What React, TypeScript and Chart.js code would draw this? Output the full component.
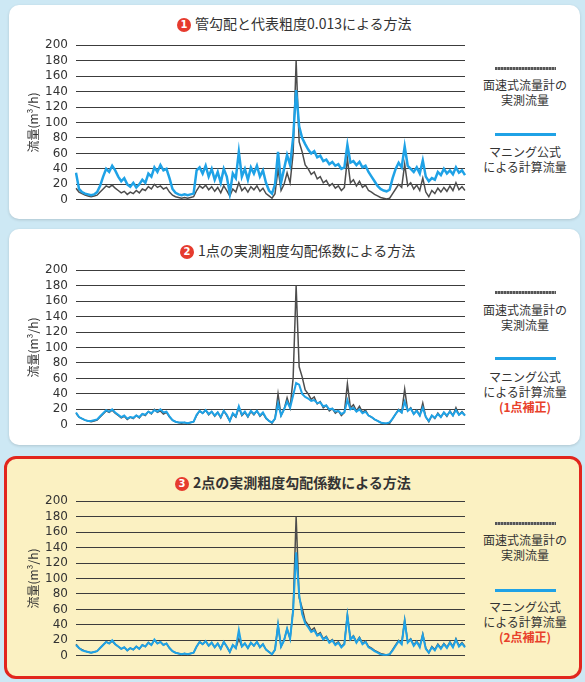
import React, { useEffect, useRef } from 'react';
import { Chart, registerables } from 'chart.js';

Chart.register(...registerables);

// ---- data ----
const yTicks = [0, 20, 40, 60, 80, 100, 120, 140, 160, 180, 200];
const yTitle = '流量(m³/h)';

// 面速式流量計の実測流量 (measured)
const measured = [
  15, 10, 8, 6, 5, 4, 5, 6, 10, 14,
  18, 16, 19, 15, 12, 9, 11, 7, 10, 8,
  12, 9, 14, 12, 17, 14, 20, 16, 18, 14,
  16, 10, 6, 4, 3, 2, 3, 2, 3, 4,
  12, 18, 15, 19, 13, 17, 11, 16, 9, 18,
  12, 5, 14, 10, 22, 12, 16, 10, 17, 13,
  18, 11, 15, 8, 5, 2, 8, 40, 12, 20,
  35, 22, 60, 180, 75, 62, 45, 40, 33, 36,
  27, 30, 22, 25, 18, 21, 15, 18, 12, 16,
  53, 22, 26, 18, 24, 16, 19, 12, 10, 7,
  5, 3, 2, 1, 2, 8, 14, 20, 16, 46,
  18, 22, 14, 19, 12, 28, 10, 4, 12, 8,
  15, 10, 16, 11, 18, 12, 22, 13, 17, 12,
];

// ❶ 管勾配と代表粗度0.013
const calcRough013 = [
  35, 14, 10, 8, 7, 6, 7, 10, 18, 30,
  40, 36, 44, 38, 30, 24, 28, 20, 17, 22,
  16, 20, 26, 22, 34, 30, 42, 36, 45, 38,
  40, 28, 14, 9, 7, 6, 7, 6, 7, 8,
  38, 42, 34, 44, 30, 40, 26, 36, 22, 40,
  30, 8, 34, 28, 62, 30, 40, 26, 42, 34,
  44, 30, 38, 22, 12, 8, 20, 62, 22, 40,
  58, 45, 80, 142, 95, 80, 72, 65, 60, 63,
  55, 57, 50, 52, 46, 49, 44, 46, 40, 42,
  71, 48, 50, 45, 49, 42, 44, 36, 30, 24,
  18, 14, 12, 11, 13, 28, 40, 48, 42, 69,
  44, 40, 36, 42, 34, 51, 30, 24, 28, 26,
  36, 32, 40, 34, 38, 33, 42, 35, 38, 32,
];

// ❷ 1点補正
const calcOnePoint = [
  16, 10, 8, 6, 5, 5, 6, 7, 11, 15,
  19, 17, 20, 16, 13, 10, 12, 8, 10, 9,
  12, 10, 14, 13, 17, 15, 19, 17, 20, 16,
  17, 11, 6, 4, 3, 3, 3, 2, 3, 4,
  13, 18, 15, 19, 14, 17, 12, 16, 10, 18,
  13, 5, 15, 11, 24, 13, 17, 11, 18, 14,
  18, 12, 16, 9, 5, 3, 8, 28, 12, 20,
  30, 22, 38, 54, 52, 40, 36, 34, 31, 32,
  28, 29, 24, 25, 20, 21, 17, 18, 14, 16,
  32, 20, 22, 17, 20, 15, 17, 12, 10, 7,
  5, 3, 2, 2, 3, 8, 14, 19, 16, 30,
  18, 21, 14, 18, 12, 22, 10, 5, 12, 9,
  14, 10, 16, 12, 17, 12, 19, 13, 16, 12,
];

// ❸ 2点補正
const calcTwoPoint = [
  14, 10, 7, 6, 5, 4, 5, 6, 10, 14,
  18, 16, 20, 15, 12, 9, 11, 7, 10, 8,
  12, 9, 14, 12, 17, 14, 21, 16, 18, 14,
  16, 10, 6, 4, 3, 2, 3, 2, 3, 4,
  12, 18, 15, 19, 13, 17, 11, 16, 9, 18,
  12, 5, 14, 10, 33, 12, 16, 10, 17, 13,
  18, 11, 15, 8, 5, 2, 8, 40, 12, 20,
  35, 22, 58, 134, 79, 54, 42, 37, 31, 33,
  26, 28, 21, 24, 17, 20, 14, 17, 11, 15,
  52, 21, 25, 17, 23, 15, 18, 11, 9, 6,
  4, 2, 1, 1, 2, 7, 13, 19, 15, 45,
  17, 21, 13, 18, 11, 27, 9, 4, 11, 7,
  14, 9, 15, 10, 17, 11, 21, 12, 16, 11,
];

const timeLabels = measured.map((_, i) => String(i));

const legendMeasured = ['面速式流量計の', '実測流量'];
const legendCalc = ['マニング公式', 'による計算流量'];

const GRAY = '#4d4d4d';
const BLUE = '#1fa2e6';
const JP = '"Noto Sans CJK JP", "Noto Sans", sans-serif';

function FlowChart({ calc, blueWidth, top }: { calc: number[]; blueWidth: number; top: number }) {
  const ref = useRef<HTMLCanvasElement | null>(null);
  useEffect(() => {
    if (!ref.current) return;
    const chart = new Chart(ref.current, {
      type: 'line',
      data: {
        labels: timeLabels,
        datasets: [
          { data: calc, borderColor: BLUE, borderWidth: blueWidth, pointRadius: 0, tension: 0, fill: false },
          { data: measured, borderColor: GRAY, borderWidth: 1.5, pointRadius: 0, tension: 0, fill: false },
        ],
      },
      options: {
        animation: false,
        responsive: false,
        maintainAspectRatio: false,
        layout: { padding: { top: 14, right: 5, bottom: 9, left: 0 } },
        plugins: { legend: { display: false }, tooltip: { enabled: false }, title: { display: false } },
        scales: {
          x: { type: 'category', display: false, offset: false },
          y: {
            min: 0,
            max: 200,
            afterBuildTicks: (s: any) => {
              s.ticks = yTicks.map((v) => ({ value: v }));
            },
            afterFit: (s: any) => {
              s.width = 56;
            },
            ticks: { autoSkip: false, padding: 8, color: '#333', font: { family: 'DejaVu Sans', size: 12 } },
            grid: { color: '#3c3c3c', lineWidth: 1, drawTicks: false },
            border: { display: false },
            title: {
              display: true,
              text: yTitle,
              color: '#333',
              font: { family: JP, size: 12 },
              padding: { top: 6, bottom: 0 },
            },
          },
        },
      },
    });
    return () => chart.destroy();
  }, [calc, blueWidth]);
  return (
    <canvas
      ref={ref}
      width={450}
      height={185}
      style={{ position: 'absolute', left: 20, top: top - 14, width: 450, height: 185 }}
    />
  );
}

function Num({ n }: { n: string }) {
  return (
    <span
      style={{
        display: 'inline-block',
        width: 14,
        height: 14,
        borderRadius: '50%',
        background: '#e63b2e',
        color: '#fff',
        fontSize: 10,
        fontWeight: 700,
        lineHeight: '14px',
        textAlign: 'center',
        marginRight: 4,
        verticalAlign: '1px',
        fontFamily: 'DejaVu Sans, sans-serif',
      }}
    >
      {n}
    </span>
  );
}

function Title({ n, text, left, cy, bold }: { n: string; text: string; left: number; cy: number; bold?: boolean }) {
  return (
    <div
      style={{
        position: 'absolute',
        left,
        top: cy - 10,
        height: 20,
        lineHeight: '20px',
        fontSize: 14,
        fontFamily: JP,
        fontWeight: bold ? 700 : 400,
        color: '#333',
        whiteSpace: 'nowrap',
      }}
    >
      <Num n={n} />
      {text}
    </div>
  );
}

function Txt({ y, children, color, bold }: { y: number; children: React.ReactNode; color?: string; bold?: boolean }) {
  return (
    <div
      style={{
        position: 'absolute',
        left: 470,
        width: 110,
        top: y - 8,
        height: 16,
        lineHeight: '16px',
        textAlign: 'center',
        fontSize: 12,
        fontFamily: JP,
        fontWeight: bold ? 700 : 400,
        color: color || '#333',
        whiteSpace: 'nowrap',
      }}
    >
      {children}
    </div>
  );
}

function Legend({ grayY, textY1, blueY, textY2, note }: { grayY: number; textY1: number; blueY: number; textY2: number; note?: string }) {
  return (
    <>
      <div
        style={{
          position: 'absolute',
          left: 495,
          width: 61,
          top: grayY - 1,
          height: 3,
          background: 'repeating-linear-gradient(90deg, #555 0px, #555 2px, #9a9a9a 2px, #9a9a9a 3px)',
        }}
      />
      <Txt y={textY1}>{legendMeasured[0]}</Txt>
      <Txt y={textY1 + 15}>{legendMeasured[1]}</Txt>
      <div style={{ position: 'absolute', left: 495, width: 61, top: blueY - 1, height: 3, background: BLUE }} />
      <Txt y={textY2}>{legendCalc[0]}</Txt>
      <Txt y={textY2 + 15}>{legendCalc[1]}</Txt>
      {note ? (
        <Txt y={textY2 + 30} color="#e8402a" bold>
          {note}
        </Txt>
      ) : null}
    </>
  );
}

export default function App() {
  return (
    <div style={{ position: 'absolute', left: 0, top: 0, width: 585, height: 682, background: '#cde8f4', overflow: 'hidden' }}>
      <div style={{ position: 'absolute', left: 9, top: 5, width: 571, height: 214, background: '#fff', borderRadius: 10, boxShadow: '0 1px 3px rgba(0,0,0,0.15)' }} />
      <div style={{ position: 'absolute', left: 9, top: 229, width: 571, height: 216, background: '#fff', borderRadius: 10, boxShadow: '0 1px 3px rgba(0,0,0,0.15)' }} />
      <div style={{ position: 'absolute', left: 4, top: 456, width: 572, height: 217, background: '#fbf1c2', border: '3px solid #e2261d', borderRadius: 12 }} />

      <Title n="1" text="管勾配と代表粗度0.013による方法" left={177} cy={23} />
      <Title n="2" text="1点の実測粗度勾配係数による方法" left={180} cy={250} />
      <Title n="3" text="2点の実測粗度勾配係数による方法" left={175} cy={482} bold />

      <FlowChart calc={calcRough013} blueWidth={2.5} top={44} />
      <FlowChart calc={calcOnePoint} blueWidth={2} top={269} />
      <FlowChart calc={calcTwoPoint} blueWidth={2} top={500} />

      <Legend grayY={68} textY1={85} blueY={134} textY2={152} />
      <Legend grayY={292} textY1={310} blueY={358} textY2={377} note="(1点補正)" />
      <Legend grayY={523} textY1={540} blueY={590} textY2={607} note="(2点補正)" />
    </div>
  );
}
